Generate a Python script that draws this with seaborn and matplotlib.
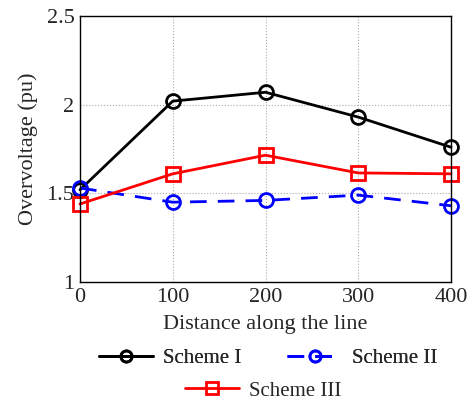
import matplotlib
matplotlib.use("Agg")
import matplotlib.pyplot as plt
import seaborn as sns
import pandas as pd
from matplotlib.lines import Line2D

distance = [0, 100, 200, 300, 400]
scheme_i = [1.52, 2.02, 2.07, 1.93, 1.76]
scheme_ii = [1.53, 1.45, 1.46, 1.49, 1.43]
scheme_iii = [1.44, 1.61, 1.715, 1.615, 1.61]
series_names = ["Scheme I", "Scheme II", "Scheme III"]
yticks = [1, 1.5, 2, 2.5]
xticks = [0, 100, 200, 300, 400]

sns.set_style("white")
plt.rcParams['font.family'] = ['Liberation Serif', 'DejaVu Serif']

df = pd.DataFrame({
    "distance": distance * 3,
    "value": scheme_i + scheme_ii + scheme_iii,
    "series": [series_names[0]] * 5 + [series_names[1]] * 5 + [series_names[2]] * 5,
})

fig = plt.figure(figsize=(4.74, 4.04), dpi=100)
ax = fig.add_axes([80 / 474, 1 - 282 / 404, 371 / 474, 266 / 404])

styles = {
    "Scheme I": dict(color="black", ls="-", marker="o"),
    "Scheme II": dict(color="blue", ls=(0, (6, 4)), marker="o"),
    "Scheme III": dict(color="red", ls="-", marker="s"),
}
handles = []
for name in series_names:
    st = styles[name]
    sub = df[df.series == name]
    sns.lineplot(data=sub, x="distance", y="value", ax=ax, color=st["color"],
                 linestyle=st["ls"], marker=st["marker"], markersize=10,
                 markerfacecolor="none", markeredgecolor=st["color"],
                 markeredgewidth=2, linewidth=2, clip_on=False, legend=False)
    handles.append(Line2D([], [], color=st["color"], linestyle=st["ls"], marker=st["marker"],
                          markersize=8, markerfacecolor="none", markeredgewidth=2, linewidth=2))

ax.set_xlim(0, 400)
ax.set_ylim(1, 2.5)
ax.set_xticks(xticks)
ax.set_yticks(yticks)
ax.set_yticklabels(["1", "1.5", "2", "2.5"])
ax.grid(True, color="#aaaaaa", linestyle=":", linewidth=0.8)
ax.tick_params(direction="in", labelsize=16, length=0, pad=4)
for sp in ax.spines.values():
    sp.set_color("black")
    sp.set_linewidth(1)
ax.set_xlabel("Distance along the line", fontsize=16, labelpad=6)
ax.set_ylabel("Overvoltage (pu)", fontsize=16, labelpad=6)

leg1 = fig.legend(handles[:2], series_names[:2], loc="center", ncol=2,
                  bbox_to_anchor=(268 / 474, 1 - 358 / 404), frameon=False,
                  fontsize=15, handlelength=2.6, columnspacing=2.2, handletextpad=0.5)
leg2 = fig.legend(handles[2:], series_names[2:], loc="center",
                  bbox_to_anchor=(263 / 474, 1 - 391 / 404), frameon=False,
                  fontsize=15, handlelength=2.6, handletextpad=0.5)
fig.add_artist(leg1)

fig.savefig("out.png", dpi=100)
